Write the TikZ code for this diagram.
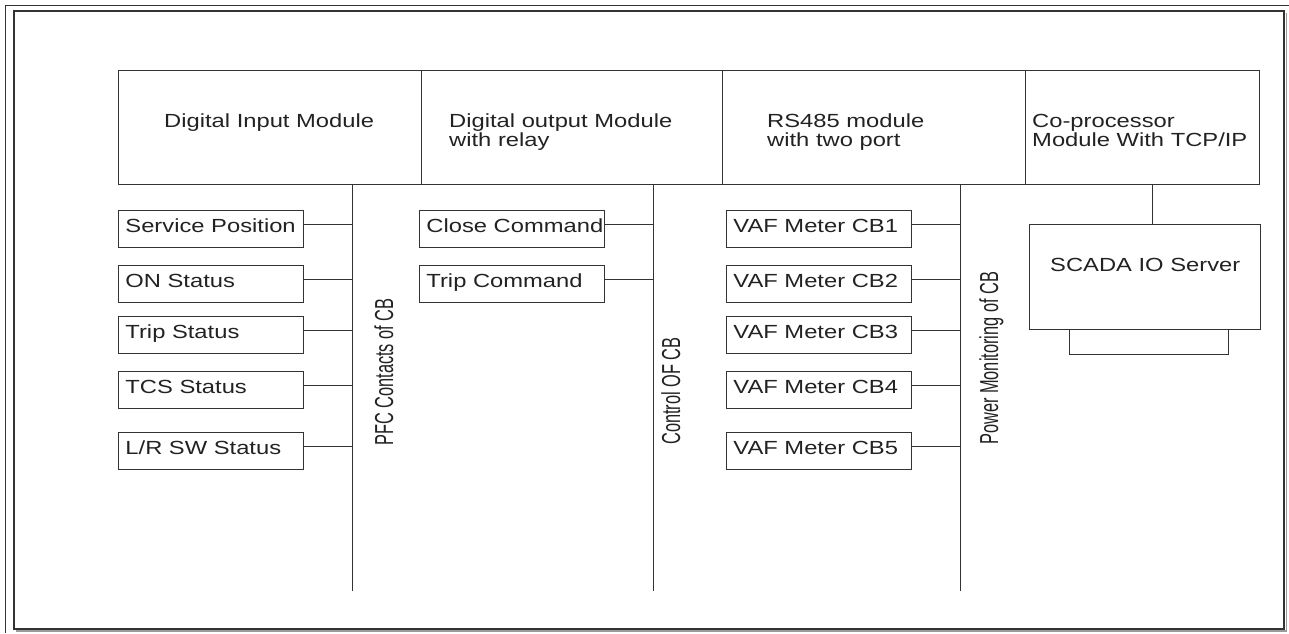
\documentclass[tikz,border=0pt]{standalone}
\usepackage{fontspec}
\newfontfamily\hfont{Liberation Sans}[FakeStretch=1.25]
\newfontfamily\vfont{Liberation Sans}[FakeStretch=0.63]
\newcommand{\bxt}[1]{\makebox[171pt][l]{#1}}
\definecolor{ln}{HTML}{333333}
\definecolor{tx}{HTML}{222222}
\definecolor{shd}{HTML}{9A9A9A}
\tikzset{
  frameline/.style={draw=ln, line width=1.5pt},
  module/.style={draw=ln, line width=0.9pt, anchor=north west, inner sep=0pt},
  modtext/.style={anchor=base west, align=left, inner sep=0pt, text=tx,
    font=\hfont\fontsize{19}{19}\selectfont},
  smallbox/.style={draw=ln, line width=0.9pt, anchor=north west, text=tx,
    font=\hfont\fontsize{19}{19}\selectfont, inner xsep=7pt, inner ysep=8pt,
    text height=14pt, text depth=7pt},
  bus/.style={draw=ln, line width=0.9pt},
  buslabel/.style={rotate=90, anchor=base west, inner sep=0pt, text=tx,
    font=\vfont\fontsize{26}{26}\selectfont},
}
\begin{document}
\begin{tikzpicture}[x=1pt,y=-1pt]
\useasboundingbox (0,0) rectangle (1289,633);
% frames
\draw[draw=ln, line width=1pt] (5,633) -- (5,5) -- (1289,5);
\draw[shd, line width=1.5pt] (1286.5,13) -- (1286.5,631) -- (16,631);
\draw[frameline] (14,11) rectangle (1284,629);
% modules
\node[module, minimum width=303pt, minimum height=114pt] (m1) at (118,70) {};
\node[module, minimum width=301pt, minimum height=114pt] (m2) at (421,70) {};
\node[module, minimum width=303pt, minimum height=114pt] (m3) at (722,70) {};
\node[module, minimum width=234pt, minimum height=114pt] (m4) at (1025,70) {};
\node[modtext] (m1t) at (164,127) {Digital Input Module};
\node[modtext] (m2t) at (449,146) {Digital output Module\\with relay};
\node[modtext] (m3t) at (767,146) {RS485 module\\with two port};
\node[modtext] (m4t) at (1032,146) {Co-processor\\Module With TCP/IP};
% buses
\coordinate (b1t) at (352,184); \coordinate (b1b) at (352,591);
\coordinate (b2t) at (653,184); \coordinate (b2b) at (653,591);
\coordinate (b3t) at (960,184); \coordinate (b3b) at (960,591);
\coordinate (b4t) at (1152,184); \coordinate (b4b) at (1152,224);
\draw[bus] (b1t) -- (b1b);
\draw[bus] (b2t) -- (b2b);
\draw[bus] (b3t) -- (b3b);
\draw[bus] (b4t) -- (b4b);
% bus labels
\node[buslabel] (lab1) at (393,446) {PFC Contacts of CB};
\node[buslabel] (lab2) at (680,445) {Control OF CB};
\node[buslabel] (lab3) at (998,445) {Power Monitoring of CB};
% left column
\node[smallbox] (l1) at (118,210) {\bxt{Service Position}};
\node[smallbox] (l2) at (118,265) {\bxt{ON Status}};
\node[smallbox] (l3) at (118,316) {\bxt{Trip Status}};
\node[smallbox] (l4) at (118,371) {\bxt{TCS Status}};
\node[smallbox] (l5) at (118,432) {\bxt{L/R SW Status}};
% middle column
\node[smallbox] (c1) at (419,210) {\bxt{Close Command}};
\node[smallbox] (c2) at (419,265) {\bxt{Trip Command}};
% right column
\node[smallbox] (r1) at (726,210) {\bxt{VAF Meter CB1}};
\node[smallbox] (r2) at (726,265) {\bxt{VAF Meter CB2}};
\node[smallbox] (r3) at (726,316) {\bxt{VAF Meter CB3}};
\node[smallbox] (r4) at (726,371) {\bxt{VAF Meter CB4}};
\node[smallbox] (r5) at (726,432) {\bxt{VAF Meter CB5}};
% connectors
\foreach \n/\b in {l1/b1t,l2/b1t,l3/b1t,l4/b1t,l5/b1t,c1/b2t,c2/b2t,r1/b3t,r2/b3t,r3/b3t,r4/b3t,r5/b3t}{
  \path ([yshift=4.5pt]\n.east) coordinate (\n p);
  \draw[bus] (\n p) -- (\n p -| \b);
}
% SCADA
\node[module, minimum width=159pt, minimum height=25pt] (scb) at (1069,329) {};
\node[module, fill=white, minimum width=231pt, minimum height=105pt] (sc) at (1029,224) {};
\node[modtext] (sct) at (1050,271) {SCADA IO Server};
\end{tikzpicture}
\end{document}
